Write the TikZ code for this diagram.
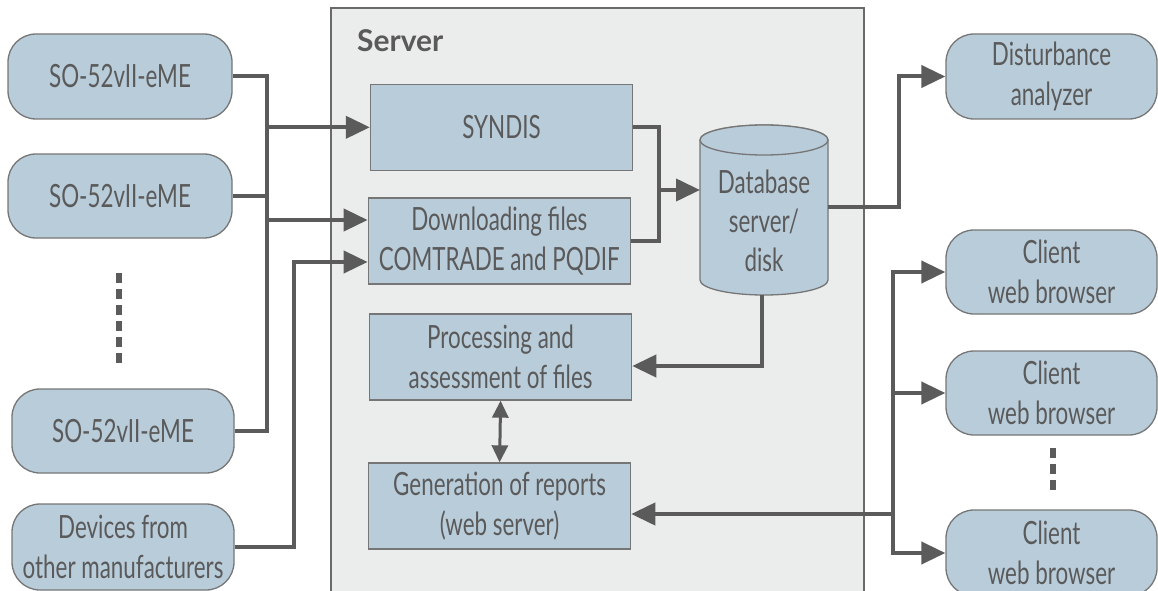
\documentclass[tikz,border=0pt]{standalone}
\usepackage{fontspec}
\setmainfont{Lato}[FakeStretch=0.70]
\newfontfamily\srvfont{Lato}
\usetikzlibrary{arrows.meta,calc}
\definecolor{boxfill}{HTML}{B9CCDA}
\definecolor{boxline}{HTML}{767676}
\definecolor{linec}{HTML}{5B5B5B}
\definecolor{txt}{HTML}{5A5A5A}
\definecolor{srvfill}{HTML}{EBEDED}
\definecolor{srvline}{HTML}{6A6A6A}
\begin{document}
\begin{tikzpicture}[x=1pt,y=-1pt,
  font=\fontsize{32}{40}\selectfont, text=txt,
  base/.style={draw=boxline, line width=1.3pt, fill=boxfill, align=center, inner sep=0pt},
  devbox/.style={base, rounded corners=28pt},
  procbox/.style={base},
  ln/.style={draw=linec, line width=4pt},
  arr/.style={ln, -{Triangle[length=24pt,width=22pt]}},
  dblarr/.style={draw=linec, line width=3pt, {Triangle[length=17pt,width=16pt]}-{Triangle[length=17pt,width=16pt]}},
  dotline/.style={draw=linec, line width=5.5pt, dash pattern=on 10pt off 6pt},
]
\useasboundingbox (0,0) rectangle (1158,591);
% server
\node[draw=srvline, line width=2pt, fill=srvfill, minimum width=533pt, minimum height=592pt, inner sep=0pt] (srv) at (597.5,304) {};
\node[anchor=west, inner sep=0pt, font=\srvfont\bfseries\fontsize{30}{34}\selectfont] (srvlabel) at (357,41) {Server};

% left devices
\node[devbox, minimum width=224pt, minimum height=85pt] (so1) at (120,76.5) {SO-52vII-eME};
\node[devbox, minimum width=224pt, minimum height=84pt] (so2) at (120,196) {SO-52vII-eME};
\node[devbox, minimum width=222pt, minimum height=84pt] (so3) at (123,431) {SO-52vII-eME};
\node[devbox, minimum width=222pt, minimum height=86pt] (dev) at (123,547) {Devices from\\other manufacturers};

% server blocks
\node[procbox, minimum width=262pt, minimum height=86pt] (syn) at (501.5,127.3) {SYNDIS};
\node[procbox, minimum width=262pt, minimum height=86pt] (dl) at (499.3,241) {Downloading files\\COMTRADE and PQDIF};
\node[procbox, minimum width=262pt, minimum height=86pt] (proc) at (500.6,357) {Processing and\\assessment of files};
\node[procbox, minimum width=262pt, minimum height=86pt] (gen) at (499.6,506) {Generation of reports\\(web server)};

% database cylinder
\path[draw=boxline, line width=1.3pt, fill=boxfill] (700,140) -- (700,280) arc (180:0:64 and 15) -- (828,140) arc (0:-180:64 and 15) -- cycle;
\draw[draw=boxline, line width=1.3pt, fill=boxfill] (764,140) ellipse (64 and 15);
\node[align=center, inner sep=0pt, font=\fontsize{32}{39}\selectfont] (db) at (764,221) {Database\\server/\\disk};
\coordinate (dbL) at (700,190);
\coordinate (dbR) at (828,207);
\coordinate (dbB) at (762,295);

% right side
\node[devbox, minimum width=211pt, minimum height=85pt] (dist) at (1051.5,76.5) {Disturbance\\analyzer};
\node[devbox, minimum width=211pt, minimum height=84pt] (c1) at (1051.5,272) {Client\\web browser};
\node[devbox, minimum width=211pt, minimum height=84pt] (c2) at (1051.5,393) {Client\\web browser};
\node[devbox, minimum width=211pt, minimum height=86pt] (c3) at (1051.5,553) {Client\\web browser};

% dots
\coordinate (ldA) at (119,273);
\coordinate (ldB) at (119,363);
\draw[dotline] (ldA) -- (ldB);
\coordinate (rdA) at (1053,448);
\coordinate (rdB) at (1053,490);
\draw[dotline] (rdA) -- (rdB);

% left connectors
\coordinate (busx) at (267,0);
\coordinate (devx) at (294,0);
\draw[ln] (so1.east) -| (so3.east -| busx) -- (so3.east);
\draw[ln] (so2.east) -- (so2.east -| busx);
\draw[arr] (syn.west -| busx) -- (syn.west);
\coordinate (dlin1) at ($(dl.west)+(0,-21)$);
\coordinate (dlin2) at ($(dl.west)+(0,21)$);
\draw[arr] (dlin1 -| busx) -- (dlin1);
\draw[arr] (dev.east) -| (dlin2 -| devx) -- (dlin2);

% into database
\coordinate (j1) at (659,190);
\draw[ln] (syn.east) -| (j1) |- (dl.east);
\draw[arr] (j1) -- (dbL);

% database out
\coordinate (jx) at (899,0);
\draw[arr] (dbR) -| (dist.west -| jx) -- (dist.west);
\coordinate (procin) at ($(proc.east)+(0,9)$);
\draw[arr] (dbB) |- (procin);

% processing <-> generation
\draw[dblarr] (proc.south) -- (gen.north);

% clients
\coordinate (cx) at (893,0);
\coordinate (genin) at ($(gen.east)+(0,8)$);
\draw[arr] (genin -| cx) -- (genin);
\draw[arr] (c2.west -| cx) |- (c1.west);
\draw[arr] (c2.west -| cx) |- (c3.west);
\draw[arr] (c2.west -| cx) -- (c2.west);
\end{tikzpicture}
\end{document}
